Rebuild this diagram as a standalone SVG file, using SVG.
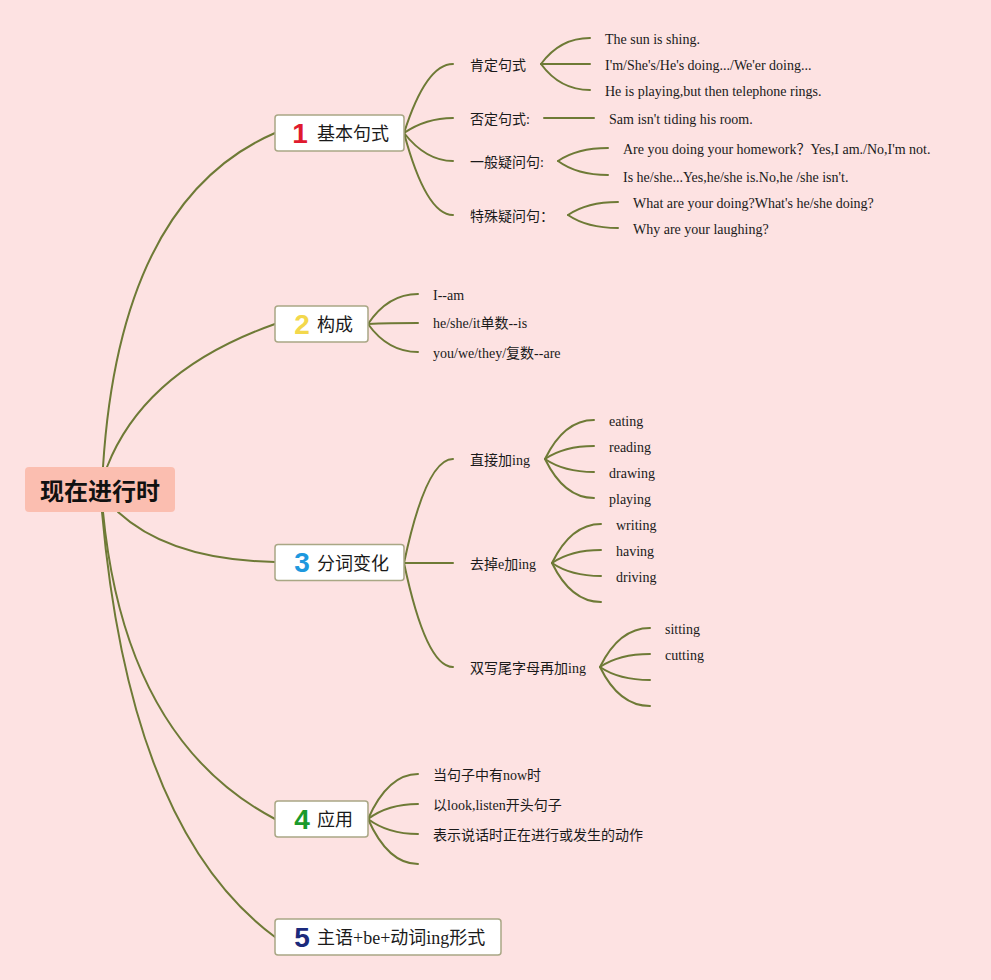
<svg xmlns="http://www.w3.org/2000/svg" width="991" height="980" viewBox="0 0 991 980">
<style>
.ln{fill:none;stroke:#6e7a36;stroke-width:2;stroke-linecap:round}
.box{fill:#ffffff;stroke:#a9a785;stroke-width:1.5}
.num{font-family:"Liberation Sans","DejaVu Sans",sans-serif;font-weight:bold;font-size:28px;text-anchor:middle}
.lab{font-family:"Liberation Serif","Noto Sans CJK SC",serif;font-size:18px;fill:#1a1a1a}
.sub{font-family:"Liberation Serif","Noto Sans CJK SC",serif;font-size:14px;fill:#1a1a1a}
.leaf{font-family:"Liberation Serif","Noto Sans CJK SC",serif;font-size:14px;fill:#1a1a1a}
</style>
<rect width="991" height="980" fill="#fde2e2"/>
<g id="connectors">
<path class="ln" d="M103,467 Q120,200 275,133"/>
<path class="ln" d="M107,467 Q145,370 275,324"/>
<path class="ln" d="M118,512 Q170,560 275,562"/>
<path class="ln" d="M103,512 Q125,740 275,819"/>
<path class="ln" d="M102,512 Q130,830 275,937"/>
<path class="ln" d="M404,133 Q426,64 453,64"/>
<path class="ln" d="M404,133 Q426,118 453,118"/>
<path class="ln" d="M404,133 Q426,161 453,161"/>
<path class="ln" d="M404,133 Q426,215 453,215"/>
<path class="ln" d="M541,64 Q560,38 590,38"/>
<path class="ln" d="M541,64 L590,64"/>
<path class="ln" d="M541,64 Q560,90 590,90"/>
<path class="ln" d="M544,118 L594,118"/>
<path class="ln" d="M558,161 Q577,148 608,148"/>
<path class="ln" d="M558,161 Q577,175 608,175"/>
<path class="ln" d="M568,215 Q587,202 618,202"/>
<path class="ln" d="M568,215 Q587,228 618,228"/>
<path class="ln" d="M368,324 Q388,294 418,294"/>
<path class="ln" d="M368,324 Q388,323 418,323"/>
<path class="ln" d="M368,324 Q388,352 418,352"/>
<path class="ln" d="M404,563 Q426,459 453,459"/>
<path class="ln" d="M404,563 L453,563"/>
<path class="ln" d="M404,563 Q426,667 453,667"/>
<path class="ln" d="M545,459 Q564,420 594,420"/>
<path class="ln" d="M545,459 Q564,446 594,446"/>
<path class="ln" d="M545,459 Q564,472 594,472"/>
<path class="ln" d="M545,459 Q564,498 594,498"/>
<path class="ln" d="M552,563 Q571,524 601,524"/>
<path class="ln" d="M552,563 Q571,550 601,550"/>
<path class="ln" d="M552,563 Q571,576 601,576"/>
<path class="ln" d="M552,563 Q571,602 601,602"/>
<path class="ln" d="M600,667 Q619,628 650,628"/>
<path class="ln" d="M600,667 Q619,654 650,654"/>
<path class="ln" d="M600,667 Q619,680 650,680"/>
<path class="ln" d="M600,667 Q619,706 650,706"/>
<path class="ln" d="M368,819 Q388,774 418,774"/>
<path class="ln" d="M368,819 Q388,804 418,804"/>
<path class="ln" d="M368,819 Q388,834 418,834"/>
<path class="ln" d="M368,819 Q388,864 418,864"/>
</g>
<g id="root">
<rect x="25" y="467" width="150" height="45" rx="4" fill="#fbbeb0"/>
<text x="100" y="500" text-anchor="middle" font-family="'Noto Sans CJK SC',sans-serif" font-weight="bold" font-size="24" fill="#111">现在进行时</text>
</g>
<g id="b1">
<rect class="box" x="275" y="115" width="129" height="36" rx="3"/>
<text class="num" x="300" y="143" fill="#e01a2e">1</text>
<text class="lab" x="317" y="140">基本句式</text>
</g>
<g id="b1-1"><text class="sub" x="470" y="70">肯定句式</text></g>
<g id="b1-1a"><text class="leaf" x="605" y="44">The sun is shing.</text></g>
<g id="b1-1b"><text class="leaf" x="605" y="70">I'm/She's/He's doing.../We'er doing...</text></g>
<g id="b1-1c"><text class="leaf" x="605" y="96">He is playing,but then telephone rings.</text></g>
<g id="b1-2"><text class="sub" x="470" y="124">否定句式:</text></g>
<g id="b1-2a"><text class="leaf" x="609" y="124">Sam isn't tiding his room.</text></g>
<g id="b1-3"><text class="sub" x="470" y="167">一般疑问句:</text></g>
<g id="b1-3a"><text class="leaf" x="623" y="154">Are you doing your homework？Yes,I am./No,I'm not.</text></g>
<g id="b1-3b"><text class="leaf" x="623" y="182">Is he/she...Yes,he/she is.No,he /she isn't.</text></g>
<g id="b1-4"><text class="sub" x="470" y="221">特殊疑问句：</text></g>
<g id="b1-4a"><text class="leaf" x="633" y="208">What are your doing?What's he/she doing?</text></g>
<g id="b1-4b"><text class="leaf" x="633" y="234">Why are your laughing?</text></g>
<g id="b2">
<rect class="box" x="275" y="306" width="93" height="36" rx="3"/>
<text class="num" x="302" y="334" fill="#f3d84c">2</text>
<text class="lab" x="317" y="331">构成</text>
</g>
<g id="b2-a"><text class="leaf" x="433" y="300">I--am</text></g>
<g id="b2-b"><text class="leaf" x="433" y="328">he/she/it单数--is</text></g>
<g id="b2-c"><text class="leaf" x="433" y="358">you/we/they/复数--are</text></g>
<g id="b3">
<rect class="box" x="275" y="544.5" width="129" height="36" rx="3"/>
<text class="num" x="302" y="572" fill="#1e98de">3</text>
<text class="lab" x="317" y="570">分词变化</text>
</g>
<g id="b3-1"><text class="sub" x="470" y="465">直接加ing</text></g>
<g id="b3-1a"><text class="leaf" x="609" y="426">eating</text></g>
<g id="b3-1b"><text class="leaf" x="609" y="452">reading</text></g>
<g id="b3-1c"><text class="leaf" x="609" y="478">drawing</text></g>
<g id="b3-1d"><text class="leaf" x="609" y="504">playing</text></g>
<g id="b3-2"><text class="sub" x="470" y="569">去掉e加ing</text></g>
<g id="b3-2a"><text class="leaf" x="616" y="530">writing</text></g>
<g id="b3-2b"><text class="leaf" x="616" y="556">having</text></g>
<g id="b3-2c"><text class="leaf" x="616" y="582">driving</text></g>
<g id="b3-3"><text class="sub" x="470" y="673">双写尾字母再加ing</text></g>
<g id="b3-3a"><text class="leaf" x="665" y="634">sitting</text></g>
<g id="b3-3b"><text class="leaf" x="665" y="660">cutting</text></g>
<g id="b4">
<rect class="box" x="275" y="801" width="93" height="36" rx="3"/>
<text class="num" x="302" y="829" fill="#1a9a2c">4</text>
<text class="lab" x="317" y="826">应用</text>
</g>
<g id="b4-a"><text class="leaf" x="433" y="780">当句子中有now时</text></g>
<g id="b4-b"><text class="leaf" x="433" y="810">以look,listen开头句子</text></g>
<g id="b4-c"><text class="leaf" x="433" y="840">表示说话时正在进行或发生的动作</text></g>
<g id="b5">
<rect class="box" x="275" y="919" width="226" height="36" rx="3"/>
<text class="num" x="302" y="947" fill="#1b2a7c">5</text>
<text class="lab" x="317" y="944">主语+be+动词ing形式</text>
</g>
</svg>
